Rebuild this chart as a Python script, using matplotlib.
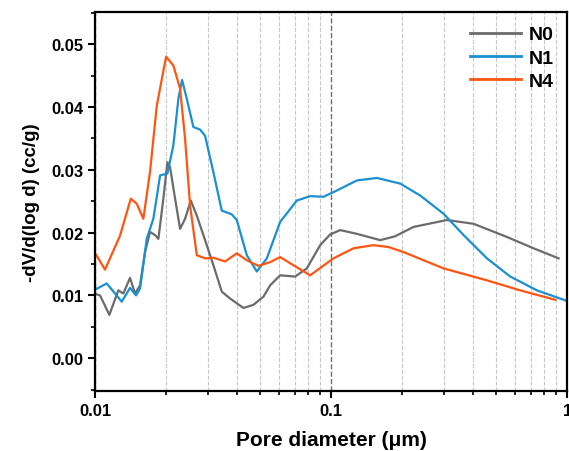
import matplotlib
matplotlib.use('Agg')
import matplotlib.pyplot as plt
from matplotlib.ticker import FixedLocator, FixedFormatter, MultipleLocator, NullFormatter

plt.rcParams['font.family'] = ['Liberation Sans', 'DejaVu Sans']
plt.rcParams['font.weight'] = 'bold'

# pore diameter (um) and -dV/d(log d) (cc/g)
d_n0 = [0.01010, 0.01050, 0.01150, 0.01255, 0.01318, 0.01407, 0.01477, 0.01551, 0.01629,
        0.01710, 0.01796, 0.01855, 0.01947, 0.02025, 0.02079, 0.02183, 0.02292, 0.02407,
        0.02544, 0.02698, 0.02925, 0.03172, 0.03442, 0.03733, 0.04250, 0.04685, 0.05166,
        0.05515, 0.06081, 0.07038, 0.07889, 0.08984, 0.0990, 0.1092, 0.1285, 0.1613,
        0.1862, 0.2233, 0.3093, 0.4010, 0.5553, 0.7198, 0.9189]
v_n0 = [0.0102, 0.0100, 0.0069, 0.0108, 0.0103, 0.0128, 0.0103, 0.0116, 0.0169,
        0.0201, 0.0196, 0.0190, 0.0254, 0.0312, 0.0304, 0.0254, 0.0206, 0.0222,
        0.0251, 0.0227, 0.0188, 0.0148, 0.0106, 0.0095, 0.0080, 0.0085, 0.0098,
        0.0116, 0.0132, 0.0130, 0.0143, 0.0180, 0.0197, 0.0204, 0.0198, 0.0188,
        0.0194, 0.0209, 0.0220, 0.0214, 0.0193, 0.0175, 0.0159]

d_n1 = [0.01010, 0.01121, 0.01298, 0.01407, 0.01492, 0.01551, 0.01656, 0.01766, 0.01886,
        0.02025, 0.02147, 0.02254, 0.02337, 0.02447, 0.02610, 0.02786, 0.02925, 0.03172,
        0.03442, 0.03796, 0.03985, 0.04393, 0.04843, 0.05340, 0.06081, 0.07156, 0.08148,
        0.09278, 0.1057, 0.1285, 0.1562, 0.1961, 0.2383, 0.2992, 0.3637, 0.4567,
        0.5735, 0.7440, 1.0]
v_n1 = [0.0110, 0.0119, 0.0090, 0.0112, 0.0100, 0.0111, 0.0190, 0.0222, 0.0291,
        0.0294, 0.0339, 0.0413, 0.0443, 0.0413, 0.0368, 0.0364, 0.0354, 0.0296,
        0.0235, 0.0229, 0.0220, 0.0164, 0.0138, 0.0159, 0.0217, 0.0251, 0.0258,
        0.0257, 0.0267, 0.0283, 0.0287, 0.0278, 0.0259, 0.0230, 0.0196, 0.0159,
        0.0130, 0.0108, 0.0091]

d_n4 = [0.01010, 0.01102, 0.01276, 0.01417, 0.01502, 0.01602, 0.01710, 0.01826, 0.02000,
        0.02147, 0.02292, 0.02407, 0.02527, 0.02698, 0.02925, 0.03172, 0.03555, 0.03985,
        0.04393, 0.04920, 0.05515, 0.06081, 0.06922, 0.08148, 0.1023, 0.1243, 0.1511,
        0.1750, 0.2025, 0.2992, 0.4567, 0.6321, 0.8895]
v_n4 = [0.0165, 0.0141, 0.0195, 0.0254, 0.0246, 0.0222, 0.0297, 0.0402, 0.0480,
        0.0466, 0.0429, 0.0349, 0.0243, 0.0164, 0.0159, 0.0160, 0.0154, 0.0167,
        0.0156, 0.0147, 0.0153, 0.0161, 0.0148, 0.0132, 0.0159, 0.0175, 0.0180,
        0.0177, 0.0169, 0.0143, 0.0124, 0.0108, 0.0093]

fig = plt.figure(figsize=(5.69, 4.52), dpi=100)
ax = fig.add_axes([0.167, 0.133, 0.830, 0.838])

ax.plot(d_n0, v_n0, color='#6b6b6b', lw=1.6, label='N0')
ax.plot(d_n1, v_n1, color='#1a90d0', lw=1.6, label='N1')
ax.plot(d_n4, v_n4, color='#ff5511', lw=1.6, label='N4')

ax.set_xscale('log')
ax.set_xlim(0.01, 1)
ax.set_ylim(-0.0052, 0.0551)

ax.xaxis.set_major_locator(FixedLocator([0.01, 0.1, 1]))
ax.xaxis.set_major_formatter(FixedFormatter(['0.01', '0.1', '1']))
ax.xaxis.set_minor_locator(FixedLocator([k * 0.01 for k in range(2, 10)] + [k * 0.1 for k in range(2, 10)]))
ax.xaxis.set_minor_formatter(NullFormatter())
ax.yaxis.set_major_locator(MultipleLocator(0.01))
ax.yaxis.set_minor_locator(MultipleLocator(0.005))
ax.yaxis.set_major_formatter(plt.FuncFormatter(lambda v, p: f'{v:.2f}'))

ax.grid(which='minor', axis='x', ls='--', color='#c8c8c8', lw=0.8)
ax.grid(which='major', axis='x', ls='--', color='#707070', lw=1.0)

ax.tick_params(which='major', direction='out', length=5, width=1.5, labelsize=12)
ax.tick_params(which='minor', direction='out', length=3, width=1.2)
for s in ax.spines.values():
    s.set_linewidth(1.6)

ax.set_xlabel('Pore diameter (\u03bcm)', fontsize=15, fontweight='bold', labelpad=9)
ax.set_ylabel('-dV/d(log d) (cc/g)', fontsize=13.5, fontweight='bold', labelpad=8)

leg = ax.legend(loc='upper right', frameon=False, fontsize=14, handlelength=2.6,
                handletextpad=0.4, labelspacing=0.3, borderaxespad=0.3)
for line in leg.get_lines():
    line.set_linewidth(2.0)

fig.savefig('out.png', dpi=100)
